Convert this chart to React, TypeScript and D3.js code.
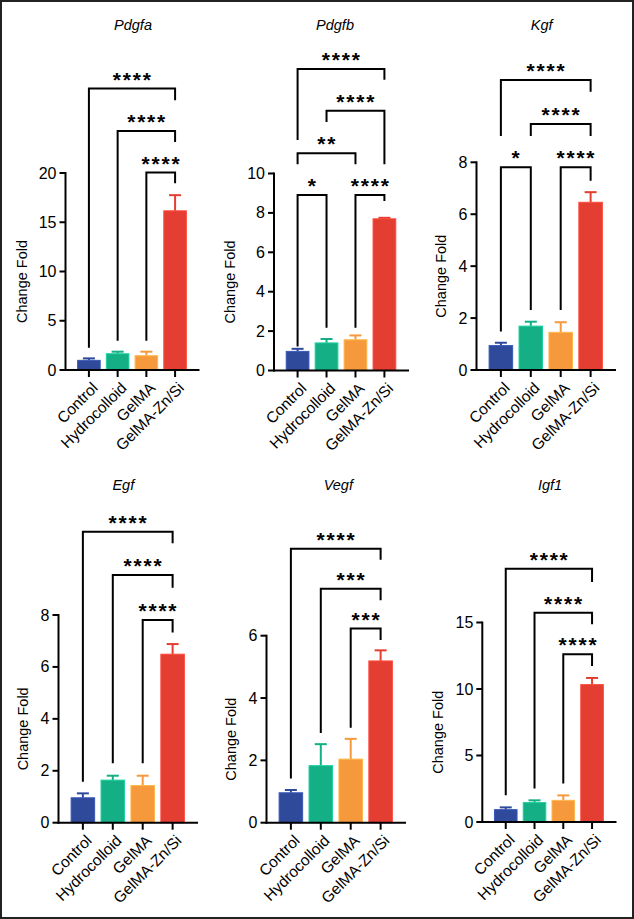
import React from 'react';
import * as d3 from 'd3';

// ---------- data ----------
const groups = ['Control', 'Hydrocolloid', 'GelMA', 'GelMA-Zn/Si'];
const colors = ['#2F4A9B', '#14AF85', '#F6993D', '#E33E31'];
const genes = ['Pdgfa', 'Pdgfb', 'Kgf', 'Egf', 'Vegf', 'Igf1'];

const pdgfaMean = [0.98, 1.65, 1.45, 16.16];
const pdgfaErr = [0.2, 0.21, 0.41, 1.59];
const pdgfbMean = [0.97, 1.4, 1.56, 7.7];
const pdgfbErr = [0.13, 0.2, 0.22, 0.05];
const kgfMean = [0.94, 1.69, 1.45, 6.46];
const kgfErr = [0.11, 0.17, 0.39, 0.39];
const egfMean = [0.96, 1.64, 1.43, 6.49];
const egfErr = [0.17, 0.17, 0.38, 0.39];
const vegfMean = [0.96, 1.83, 2.04, 5.19];
const vegfErr = [0.09, 0.69, 0.65, 0.34];
const igf1Mean = [0.93, 1.46, 1.63, 10.33];
const igf1Err = [0.17, 0.17, 0.37, 0.5];

const pdgfaTicks = [0, 5, 10, 15, 20];
const pdgfbTicks = [0, 2, 4, 6, 8, 10];
const kgfTicks = [0, 2, 4, 6, 8];
const egfTicks = [0, 2, 4, 6, 8];
const vegfTicks = [0, 2, 4, 6];
const igf1Ticks = [0, 5, 10, 15];

// [fromGroup, toGroup, label, level, leftLegEnd, rightLegEnd] (data units)
type Br = [number, number, string, number, number, number];
const pdgfaSig: Br[] = [
  [0, 3, '****', 28.57, 2.26, 27.38],
  [1, 3, '****', 24.27, 2.97, 23.15],
  [2, 3, '****', 20.05, 2.97, 18.97],
];
const pdgfbSig: Br[] = [
  [0, 3, '****', 15.3, 11.7, 14.76],
  [1, 3, '****', 13.18, 12.62, 10.47],
  [0, 2, '**', 11.03, 10.47, 10.47],
  [0, 1, '*', 8.91, 1.22, 2.17],
  [2, 3, '****', 8.91, 2.17, 8.6],
];
const kgfSig: Br[] = [
  [0, 3, '****', 11.17, 9.01, 10.72],
  [1, 3, '****', 9.48, 9.01, 9.01],
  [0, 1, '*', 7.81, 1.48, 2.31],
  [2, 3, '****', 7.81, 2.31, 7.29],
];
const egfSig: Br[] = [
  [0, 3, '****', 11.21, 1.58, 10.76],
  [1, 3, '****', 9.54, 2.29, 9.05],
  [2, 3, '****', 7.81, 2.29, 7.33],
];
const vegfSig: Br[] = [
  [0, 3, '****', 8.79, 1.42, 8.44],
  [1, 3, '***', 7.51, 2.88, 7.14],
  [2, 3, '***', 6.23, 3.05, 5.86],
];
const igf1Sig: Br[] = [
  [0, 3, '****', 19.05, 2.01, 18.05],
  [1, 3, '****', 15.74, 2.51, 14.86],
  [2, 3, '****', 12.61, 2.89, 11.73],
];

const means = [pdgfaMean, pdgfbMean, kgfMean, egfMean, vegfMean, igf1Mean];
const errs = [pdgfaErr, pdgfbErr, kgfErr, egfErr, vegfErr, igf1Err];
const ticks = [pdgfaTicks, pdgfbTicks, kgfTicks, egfTicks, vegfTicks, igf1Ticks];
const sigs = [pdgfaSig, pdgfbSig, kgfSig, egfSig, vegfSig, igf1Sig];

// ---------- layout ----------
const layout = [
  { axisX: 65.5, xEnd: 198.5, zeroY: 370, topY: 173, titleX: 133, titleY: 25 },
  { axisX: 274, xEnd: 408, zeroY: 370.5, topY: 173.5, titleX: 335, titleY: 25 },
  { axisX: 476.5, xEnd: 615, zeroY: 370, topY: 162.3, titleX: 541.7, titleY: 25 },
  { axisX: 58.5, xEnd: 197, zeroY: 822.7, topY: 615, titleX: 123.3, titleY: 485 },
  { axisX: 266.5, xEnd: 405, zeroY: 822.7, topY: 635.7, titleX: 338.3, titleY: 485 },
  { axisX: 482.3, xEnd: 615.5, zeroY: 822, topY: 622.5, titleX: 550, titleY: 485 },
];

const FONT = "'Liberation Sans', Arial, Helvetica, sans-serif";

function Panel({ i }: { i: number }) {
  const L = layout[i];
  const tk = ticks[i];
  const yMax = tk[tk.length - 1];
  const y = d3.scaleLinear().domain([0, yMax]).range([L.zeroY, L.topY]);
  const x = d3
    .scaleBand<string>()
    .domain(groups)
    .range([L.axisX, L.xEnd])
    .paddingInner(0.18)
    .paddingOuter(0.405);
  const cx = (g: string) => (x(g) as number) + x.bandwidth() / 2;
  const digits = String(yMax).length;
  const labelX = L.axisX - (27 + digits * 8.5);
  const labelY = (L.zeroY + L.topY) / 2 + 10;
  return (
    <g>
      <text
        x={L.titleX}
        y={L.titleY}
        textAnchor="middle"
        dominantBaseline="central"
        fontStyle="italic"
        fontSize={14.5}
        fontFamily={FONT}
        fill="#000"
      >
        {genes[i]}
      </text>
      {/* bars */}
      {groups.map((g, k) => {
        const m = means[i][k];
        const e = errs[i][k];
        const c = colors[k];
        const light = d3.color(c)!.brighter(0.5).formatHex();
        const xc = cx(g);
        return (
          <g key={g}>
            <line x1={xc} x2={xc} y1={y(m)} y2={y(m + e)} stroke={c} strokeWidth={2} />
            <line x1={xc - 6} x2={xc + 6} y1={y(m + e)} y2={y(m + e)} stroke={c} strokeWidth={2} />
            <rect
              x={(x(g) as number) + 0.5}
              y={y(m)}
              width={x.bandwidth() - 1}
              height={L.zeroY - y(m)}
              fill={c}
              stroke={light}
              strokeWidth={1}
            />
          </g>
        );
      })}
      {/* axes */}
      <line x1={L.axisX} x2={L.axisX} y1={L.zeroY} y2={L.topY} stroke="#000" strokeWidth={2} strokeLinecap="square" />
      <line x1={L.axisX} x2={L.xEnd} y1={L.zeroY} y2={L.zeroY} stroke="#000" strokeWidth={2} strokeLinecap="square" />
      {tk.map((t) => (
        <g key={t}>
          <line x1={L.axisX - 6} x2={L.axisX} y1={y(t)} y2={y(t)} stroke="#000" strokeWidth={2} />
          <text
            x={L.axisX - 9}
            y={y(t)}
            textAnchor="end"
            dominantBaseline="central"
            fontSize={16}
            fontFamily={FONT}
            fill="#000"
          >
            {t}
          </text>
        </g>
      ))}
      {groups.map((g) => (
        <g key={g}>
          <line x1={cx(g)} x2={cx(g)} y1={L.zeroY} y2={L.zeroY + 7} stroke="#000" strokeWidth={2} />
          <text
            transform={`translate(${cx(g) + 6},${L.zeroY + 15}) rotate(-45)`}
            textAnchor="end"
            dominantBaseline="central"
            fontSize={15.5}
            fontFamily={FONT}
            fill="#000"
          >
            {g}
          </text>
        </g>
      ))}
      <text
        transform={`translate(${labelX},${labelY}) rotate(-90)`}
        textAnchor="middle"
        dominantBaseline="central"
        fontSize={14.5}
        fontFamily={FONT}
        fill="#000"
      >
        Change Fold
      </text>
      {/* significance brackets */}
      {sigs[i].map((b, k) => {
        const lx = cx(groups[b[0]]);
        const rx = cx(groups[b[1]]);
        const ly = y(b[3]);
        return (
          <g key={k}>
            <path
              d={`M${lx},${y(b[4])}V${ly}H${rx}V${y(b[5])}`}
              fill="none"
              stroke="#000"
              strokeWidth={2}
            />
            <text
              x={(lx + rx) / 2 + 0.75}
              y={ly - 2}
              textAnchor="middle"
              fontSize={21}
              fontWeight="bold"
              letterSpacing={1.8}
              fontFamily={FONT}
              fill="#000"
            >
              {b[2]}
            </text>
          </g>
        );
      })}
    </g>
  );
}

export default function App() {
  return (
    <svg
      width={634}
      height={919}
      style={{ position: 'absolute', left: 0, top: 0, background: '#fff' }}
    >
      <rect x={1} y={1} width={632} height={917} fill="#fff" stroke="#222" strokeWidth={2} />
      {genes.map((g, i) => (
        <Panel key={g} i={i} />
      ))}
    </svg>
  );
}
